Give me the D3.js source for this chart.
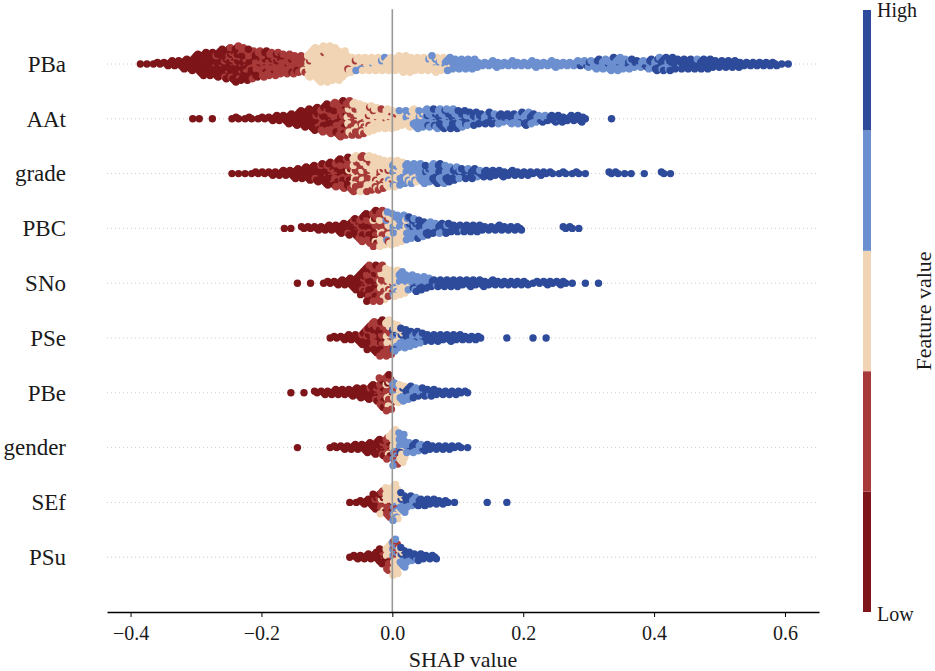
<!DOCTYPE html>
<html>
<head>
<meta charset="utf-8">
<script src="https://cdn.jsdelivr.net/npm/d3@7"></script>
<style>
  html, body { margin: 0; padding: 0; background: #ffffff; }
  svg, svg text { font-family: "Liberation Serif", "Times New Roman", Times, "DejaVu Serif", serif; }
</style>
</head>
<body>
<svg id="chart" width="935" height="671"></svg>
<script>
// ---------------- data ----------------
const features = ["PBa", "AAt", "grade", "PBC", "SNo", "PSe", "PBe", "gender", "SEf", "PSu"];
// SHAP value at which each feature's first 0.01-wide bin starts
const binStarts = [-0.39, -0.31, -0.25, -0.17, -0.15, -0.10, -0.16, -0.15, -0.07, -0.07];
const binWidth = 0.01;
// one string per bin; one character per dot, giving its feature-value level
// 0 = lowest (dark red) ... 4 = highest (dark blue)
const PBa = [
  "0","0","0","00","000","0000","00000","0000000","000000000","0000000000000",
  "000000000000000","000010000000000","00001000010000000","0001000100001000100","001001000100010010010",
  "01001001010010010010010","101001010010100101010","1010101001010101001","11010110101011010","11011010110110101",
  "110110111011011","111011101110111","1111011110111","1111101111011","11111111011",
  "11112111211","22212222222222222","222222222222222222222","22222222222221222222222","22222222222222222222222",
  "222222222222222222222","22222222222222222","22222212222","222122223","221222322",
  "222232222","322222222","222322232","222222222","222222222",
  "22222222222","22222222222","222222222","222222222","222223222",
  "22322322232","232232222","233323233","3333333","3333333",
  "3333333","3333333","333","333","33333",
  "333","333","3333","333","333",
  "33333","333","333","33333","333",
  "333","333","3343","33433","34333",
  "3334343","3333433","333333343","334333333","3333433",
  "3433343","34343","43434","4344343","434344434",
  "443434344","434444344","4444344","4444444","4444444",
  "4444434","4444444","4444444","44444","44444",
  "44444","44444","444","444","444",
  "444","444","444","4","4"
];
const AAt = [
  "0","0","","0","","","0","00","0","00",
  "0","00","000","0000","00000","0000000","000000000","00000000000","0000000000000","000100000010000",
  "01001010010100101","1010010101001010101","110101011010101101011","10110110110101101101101","1212112121121211212111",
  "212122121221212212121","2212221222122212221","22212222122221222","221222222122222","2222122222212",
  "2212222122222","22222122222","2222222223","23232223232","3232323232323",
  "33323332333","333433334333","3343343343343","3434334343434","4343343434334",
  "3434434343434","43434434343","3443434434","434434344","4344344",
  "43434344","3434434","4344343","343434","3434343",
  "43434334","434343434","3434343","43434","4343",
  "44444","34444","444","4444","44444",
  "44","","","","4"
];
const grade = [
  "0","0","0","0","00","00","000","000","0000","00000",
  "0000000","00000000","000000000","00000010000","0000100001000","001001000100100","01010010100101001","1010101001010110101","101210110101210101101","12112121121211211212121",
  "21121211212112121211212","21212212121221212122121","122212221222122212221","2122212222122212221","22212222322212222",
  "23232223232322322","323232323232323","3323332333233","332333233323","3333333333333",
  "34333433343","4343434343434","3434343434343","43434343434","434434434",
  "3443443","4434434","4444344","44434","44444",
  "4444","44444","444","4444","444",
  "444","44","444","44","44",
  "4","44","4","44","4",
  "","","","44","44",
  "4","4","","4","",
  "","44","4"
];
const PBC = [
  "0","0","","00","00","000","000","0000","00000","0000000",
  "000000100","0010010001001","01001010010100101","1010101101010110101","10112101121011012101101",
  "21212121121212212121212","212232122321223212232","2323223232322323232","23232323232323232","323334333233343",
  "3433343334334","34343434343","434343434","4343434","4434443",
  "4443444","44444","44344","44444","44444",
  "4444","444","444","4444","444",
  "444","444","","","",
  "","","","44","44",
  "4"
];
const SNo = [
  "0","","0","","0","00","000","0000","000000","000000000",
  "0010010010001000","01001010010101001010010","10101101011010110101101","12112121211212121121211","212212221222122212",
  "22322232223222322","232323232323232","3323332333","33433343334","434343434",
  "4343434","44344","44444","44444","44444",
  "4444","44444","4444","44444","444",
  "4444","444","444","444","444",
  "444","4","44","444","44",
  "444","44","4","","4",
  "","4"
];
const PSe = [
  "0","00","000","0000","00000","000100000","0100100101001001","01010110101011010101","10110101101011010110101","12121121212112121212121",
  "232324232432324232","3234323432343","34343434343","434344343","4343443",
  "44444","44444","4444","44444","4444",
  "4444","444","444","44","",
  "","","4","","",
  "","4","","4"
];
const PBe = [
  "0","","0","","00","000","000","0000","0000","00000",
  "000000","0000000","000001000","00100100100","0101101011010010110",
  "11210121121012112121101","2323212323232","32323432323","343434343","4343434",
  "434344","44344","4444","444","444",
  "444","44","44"
];
const gender = [
  "0","","","","","0","00","000","000","0000",
  "00000","0000000","000010000","00100100100","010120102101021",
  "12321232123212321232123","2323234323232323232","3343433","3434343","43434",
  "4444","444","444","444","44",
  "44","4"
];
const SEf = [
  "0","0","000","00000","0001000100","010210121021012","1212021212120212121","22322232123222322232223","3234323432343","34343434",
  "434343","44444","4444","4444","444",
  "44","4","","","",
  "","4","","","4"
];
const PSu = [
  "0","000","000","0000","000000","0010010100","12121202121212121","23212321232123212321232","3234323432343","3434343",
  "44344","4444","444","444"
];
const featureBins = [PBa, AAt, grade, PBC, SNo, PSe, PBe, gender, SEf, PSu];
const levelColours = ["#7d1519", "#a83a3a", "#f0d4b4", "#6c8fd0", "#2d4b9a"];
const xTicks = [-0.4, -0.2, 0.0, 0.2, 0.4, 0.6];
const xDomain = [-0.436, 0.652];

// ---------------- layout ----------------
const svg = d3.select("#chart");
const FONT = '"Liberation Serif", "Times New Roman", Times, "DejaVu Serif", serif';

const x = d3.scaleLinear().domain(xDomain).range([107, 819]);
const yRow = d3.scaleLinear().domain([-1, features.length]).range([612, 9.2]);
const rowPos = i => yRow(features.length - 1 - i);

const maxLayer = 11;
const layerStep = 18 / maxLayer;
const dotR = 3.7;

// dotted guide lines
svg.append("g").selectAll("line")
  .data(features)
  .join("line")
  .attr("x1", x.range()[0]).attr("x2", x.range()[1])
  .attr("y1", (d, i) => rowPos(i)).attr("y2", (d, i) => rowPos(i))
  .attr("stroke", "#cccccc").attr("stroke-width", 1)
  .attr("stroke-dasharray", "1,3");

// beeswarm points built from the bins
const points = [];
featureBins.forEach((bins, k) => {
  const start = binStarts[k];
  const y0 = rowPos(k);
  bins.forEach((s, b) => {
    const n = s.length;
    for (let i = 0; i < n; i++) {
      const frac = n === 1 ? 0.5 : (0.5 + i * 0.618034) % 1;
      const value = start + (b + frac) * binWidth;
      const layer = i === 0 ? 0 : Math.ceil(i / 2) * (i % 2 ? -1 : 1);
      points.push({ value, y: y0 + layer * layerStep, level: +s[i] });
    }
  });
});

svg.append("g").selectAll("circle")
  .data(points)
  .join("circle")
  .attr("cx", d => x(d.value))
  .attr("cy", d => d.y)
  .attr("r", dotR)
  .attr("fill", d => levelColours[d.level]);

// zero line
svg.append("line")
  .attr("x1", x(0)).attr("x2", x(0))
  .attr("y1", yRow(features.length)).attr("y2", 612)
  .attr("stroke", "#999999").attr("stroke-width", 1.6);

// feature labels
svg.append("g").selectAll("text")
  .data(features)
  .join("text")
  .attr("x", 66)
  .attr("y", (d, i) => rowPos(i))
  .attr("dy", "0.34em")
  .attr("text-anchor", "end")
  .style("font-family", FONT)
  .style("font-size", "23px")
  .attr("fill", "#1a1a1a")
  .text(d => d);

// x axis
const xAxis = d3.axisBottom(x)
  .tickValues(xTicks)
  .tickFormat(d3.format(".1f"))
  .tickSize(5)
  .tickSizeOuter(0)
  .tickPadding(9);
const gx = svg.append("g").attr("transform", "translate(0,612)").call(xAxis);
gx.attr("font-family", null).attr("font-size", null);
gx.select(".domain").attr("stroke", "#000").attr("stroke-width", 1.3);
gx.selectAll(".tick line").attr("stroke", "#000").attr("stroke-width", 1);
gx.selectAll(".tick text")
  .style("font-family", FONT).style("font-size", "20px").attr("fill", "#1a1a1a");

svg.append("text")
  .attr("x", (x.range()[0] + x.range()[1]) / 2).attr("y", 667)
  .attr("text-anchor", "middle")
  .style("font-family", FONT).style("font-size", "22px").attr("fill", "#1a1a1a")
  .text("SHAP value");

// colour bar
const cb = d3.scaleLinear().domain([0, levelColours.length]).range([612, 10]);
svg.append("g").selectAll("rect")
  .data(levelColours)
  .join("rect")
  .attr("x", 863).attr("width", 8)
  .attr("y", (d, i) => cb(i + 1))
  .attr("height", (d, i) => cb(i) - cb(i + 1))
  .attr("fill", d => d);

svg.append("text").attr("x", 877).attr("y", 17)
  .style("font-family", FONT).style("font-size", "20px").attr("fill", "#1a1a1a").text("High");
svg.append("text").attr("x", 877).attr("y", 621)
  .style("font-family", FONT).style("font-size", "20px").attr("fill", "#1a1a1a").text("Low");
svg.append("text")
  .attr("transform", "translate(931," + ((cb(0) + cb(levelColours.length)) / 2) + ") rotate(-90)")
  .attr("text-anchor", "middle")
  .style("font-family", FONT).style("font-size", "22px").attr("fill", "#1a1a1a")
  .text("Feature value");
</script>
</body>
</html>
